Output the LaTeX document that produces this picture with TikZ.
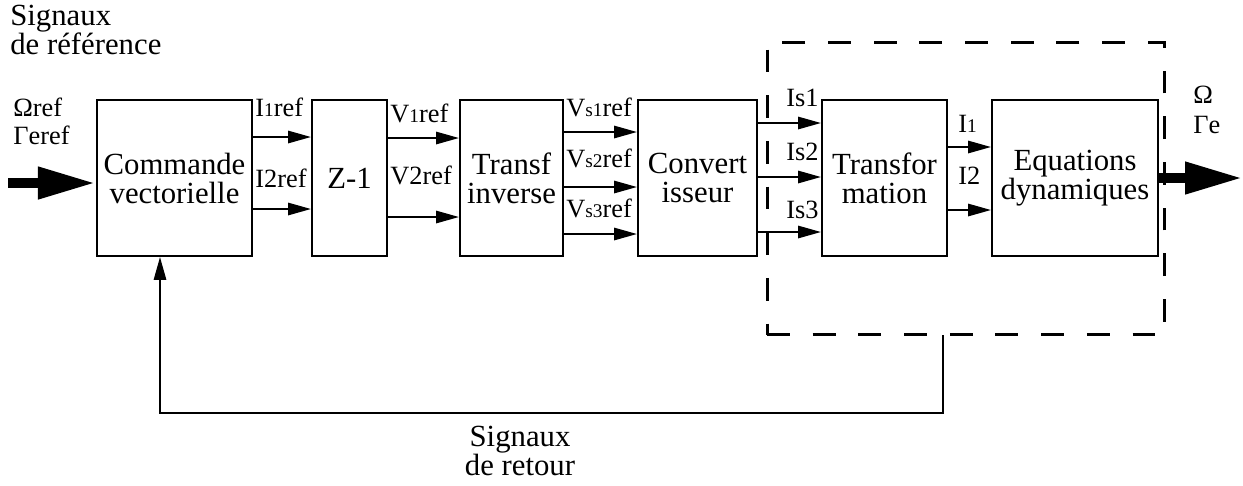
\documentclass[tikz,border=0pt]{standalone}
\usepackage{fontspec}
\setmainfont{LiberationSerif}[Extension=.ttf,UprightFont=*-Regular,BoldFont=*-Bold,ItalicFont=*-Italic]
\usepackage{tikz}
\usetikzlibrary{arrows.meta,positioning}
\newcommand{\sm}[1]{{\fontsize{11}{11}\selectfont #1}}

\begin{document}
\begin{tikzpicture}[
    x=0.02cm, y=-0.02cm,
    block/.style={rectangle,draw,line width=1.2pt,fill=white,minimum height=3.12cm,inner sep=0pt,align=center,font=\fontsize{17.5}{16.5}\selectfont},
    lbl/.style={anchor=west,inner sep=0pt,font=\fontsize{15}{15}\selectfont},
    txt/.style={inner sep=0pt,font=\fontsize{17.5}{16.5}\selectfont},
    sig/.style={-{Triangle[length=13pt,width=7pt]},line width=1.1pt},
    big/.style={-{Triangle[length=33pt,width=17pt]},line width=6pt},
    grp/.style={draw,line width=1.7pt,dash pattern=on 13pt off 13pt,minimum width=7.96cm,minimum height=5.86cm}
  ]
  \useasboundingbox (0,0) rectangle (1243,485);
  % Signal labels (behind the blocks)
  \node[lbl] (li1) at (255,107) {I\sm{1}ref};
  \node[lbl] (li2) at (255,178) {I2ref};
  \node[lbl] (lv1) at (390,113) {V\sm{1}ref};
  \node[lbl] (lv2) at (390,175) {V2ref};
  \foreach \k/\y in {1/107, 2/158, 3/208} {
    \node[lbl] (lvs\k) at (566,\y) {V\sm{s\k}ref};
  }
  \foreach \k/\y in {1/98, 2/152, 3/210} {
    \node[lbl] (lis\k) at (786,\y) {Is\k};
  }
  \node[lbl] (lI1) at (958,124) {I\sm{1}};
  \node[lbl] (lI2) at (958,176) {I2};
  % Blocks
  \node[block,minimum width=3.1cm]  (cv) at (174.5,178) {Commande\\vectorielle};
  \node[block,minimum width=1.5cm]  (z)  at (349.5,178) {Z-1};
  \node[block,minimum width=2.06cm] (ti) at (511.5,178) {Transf\\inverse};
  \node[block,minimum width=2.38cm] (cs) at (697.5,178) {Convert\\isseur};
  \node[block,minimum width=2.5cm]  (tr) at (884.5,178) {Transfor\\mation};
  \node[block,minimum width=3.32cm] (eq) at (1075,178) {Equations\\dynamiques};
  % Plant
  \node[grp] (plant) at (966,188.5) {};
  % Signals
  \foreach \y in {137, 209} {
    \draw[sig] (cv.east |- 0,\y) -- (z.west |- 0,\y);
  }
  \foreach \y in {138, 217} {
    \draw[sig] (z.east |- 0,\y) -- (ti.west |- 0,\y);
  }
  \foreach \y in {132, 187, 234} {
    \draw[sig] (ti.east |- 0,\y) -- (cs.west |- 0,\y);
  }
  \foreach \y in {123, 177, 232} {
    \draw[sig] (cs.east |- 0,\y) -- (tr.west |- 0,\y);
  }
  \foreach \y in {147, 210} {
    \draw[sig] (tr.east |- 0,\y) -- (eq.west |- 0,\y);
  }
  % Input and output
  \coordinate (in) at (8,183);
  \coordinate (out) at (1243,178);
  \draw[big] (in) -- (cv.west |- in);
  \draw[big] (eq.east |- out) -- (out);
  \node[txt,anchor=north west,align=left] (sref) at (10,5) {Signaux\\de référence};
  \node[lbl,align=left,font=\fontsize{15}{16}\selectfont] (lref) at (13,121) {Ωref\\Γeref};
  \node[lbl,align=left,font=\fontsize{15}{17}\selectfont] (lout) at (1193,110) {Ω\\Γe};
  % Feedback
  \coordinate (fb) at (943,335);
  \draw[sig] (fb) |- (160,413) -- (cv.south -| 160,0);
  \node[txt,align=center] (sret) at (520,451) {Signaux\\de retour};
\end{tikzpicture}
\end{document}
